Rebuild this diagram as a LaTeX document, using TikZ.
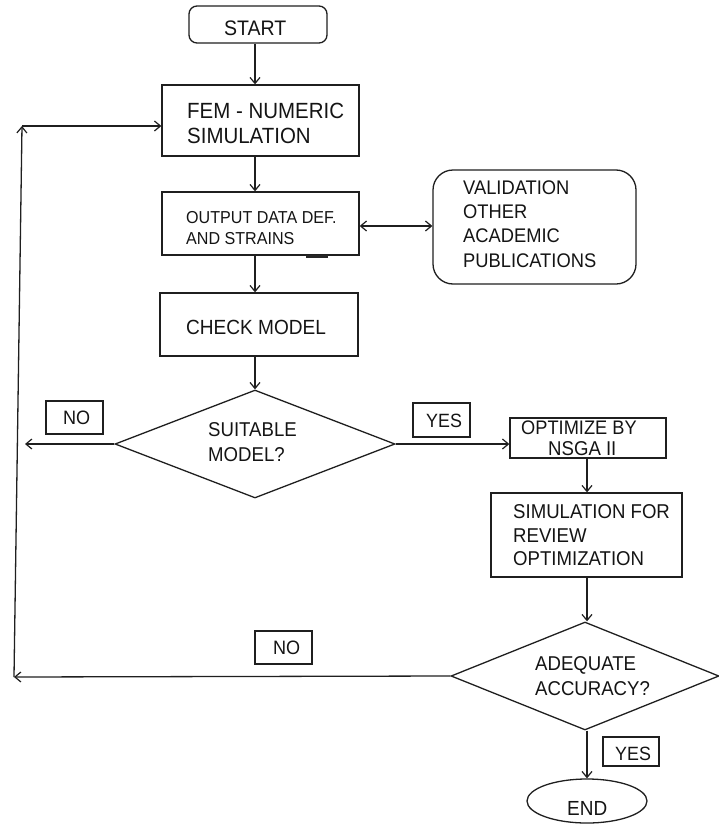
\documentclass[tikz,border=0pt]{standalone}
\usepackage{fontspec}
\setmainfont{Liberation Sans}[FakeStretch=0.93]
\usetikzlibrary{arrows.meta,shapes.geometric}

\tikzset{
  line/.style={draw=black!88, line width=1.3pt},
  arr/.style={line, -{Straight Barb[length=6pt,width=10pt,line width=1.2pt]}},
  darr/.style={line, {Straight Barb[length=6pt,width=10pt,line width=1.2pt]}-{Straight Barb[length=6pt,width=10pt,line width=1.2pt]}},
  box/.style={line, rectangle, inner sep=0pt},
  tagbox/.style={line, rectangle, inner sep=0pt, minimum width=57pt, minimum height=33pt},
  decision/.style={line, diamond, inner sep=0pt},
  txt/.style={anchor=base west, inner sep=0pt, text=black!92},
}
\newcommand{\fs}[1]{\fontsize{#1}{#1}\selectfont}

\begin{document}
\begin{tikzpicture}[x=1pt,y=-1pt]
  \useasboundingbox (0,0) rectangle (718,827);

  % main column of process boxes
  \node[box, rounded corners=8pt, minimum width=138pt, minimum height=37pt] (start) at (258,24.5) {};
  \node[box, minimum width=197pt, minimum height=71pt] (fem) at (260.5,120.5) {};
  \node[box, minimum width=197pt, minimum height=63pt] (out) at (260.5,223.5) {};
  \node[box, rounded corners=20pt, minimum width=203pt, minimum height=114pt] (val) at (534.5,227) {};
  \node[box, minimum width=198pt, minimum height=63pt] (chk) at (259,324.5) {};
  \node[decision, minimum width=280pt, minimum height=108pt] (suit) at (255,444) {};
  \node[box, minimum width=156pt, minimum height=40pt] (opt) at (588,438) {};
  \node[box, minimum width=191pt, minimum height=84pt] (sim) at (586.5,535) {};
  \node[decision, minimum width=268pt, minimum height=108pt] (adeq) at (585,676) {};
  \node[line, ellipse, inner sep=0pt, minimum width=120pt, minimum height=44pt] (end) at (587,801) {};

  % answer tags
  \node[tagbox] (no1) at (74.5,417.5) {};
  \node[tagbox, minimum height=34pt] (yes1) at (441.5,420) {};
  \node[tagbox] (no2) at (283.5,647.5) {};
  \node[tagbox, minimum width=56pt, minimum height=29pt] (yes2) at (631,751.5) {};

  % texts
  \node[txt, font=\fs{21}] (tstart) at (224,35) {START};
  \node[txt, font=\fs{22}] (tfem1) at (187,118) {FEM - NUMERIC};
  \node[txt, font=\fs{22}] (tfem2) at (187,143) {SIMULATION};
  \node[txt, font=\fs{17.3}] (tout1) at (186,223) {OUTPUT DATA DEF.};
  \node[txt, font=\fs{17.3}] (tout2) at (186,244) {AND STRAINS};
  \node[txt, font=\fs{19.7}] (tval1) at (463,194) {VALIDATION};
  \node[txt, font=\fs{19.7}] (tval2) at (463,218) {OTHER};
  \node[txt, font=\fs{19.7}] (tval3) at (463,242) {ACADEMIC};
  \node[txt, font=\fs{19.7}] (tval4) at (463,267) {PUBLICATIONS};
  \node[txt, font=\fs{20.5}] (tchk) at (186,334) {CHECK MODEL};
  \node[txt, font=\fs{20}] (tsuit1) at (208,436) {SUITABLE};
  \node[txt, font=\fs{20}] (tsuit2) at (208,461) {MODEL?};
  \node[txt, font=\fs{19.6}] (topt1) at (521,434) {OPTIMIZE BY};
  \node[txt, font=\fs{20}] (topt2) at (548,455) {NSGA II};
  \node[txt, font=\fs{20}] (tsim1) at (513,518) {SIMULATION FOR};
  \node[txt, font=\fs{20}] (tsim2) at (513,542) {REVIEW};
  \node[txt, font=\fs{20}] (tsim3) at (513,565) {OPTIMIZATION};
  \node[txt, font=\fs{20}] (tadq1) at (535,670) {ADEQUATE};
  \node[txt, font=\fs{20}] (tadq2) at (535,695) {ACCURACY?};
  \node[txt, font=\fs{20.4}] (tend) at (567,815) {END};
  \node[txt, font=\fs{19.4}] (tno1) at (63,424) {NO};
  \node[txt, font=\fs{19.2}] (tyes1) at (426,427) {YES};
  \node[txt, font=\fs{19.4}] (tno2) at (273,654) {NO};
  \node[txt, font=\fs{19.2}] (tyes2) at (615,760) {YES};

  % helper coordinates for connector routes
  \coordinate (spine) at (255,0);
  \coordinate (rspine) at (587,0);
  \coordinate (noend) at (25,444);
  \coordinate (loopbot) at (14,677);
  \coordinate (looptop) at (22,126);
  \coordinate (ticka) at (306,256.5);
  \coordinate (tickb) at (328,256.5);

  % connectors
  \draw[arr] (start.south -| spine) -- (fem.north -| spine);
  \draw[arr] (fem.south -| spine) -- (out.north -| spine);
  \draw[arr] (out.south -| spine) -- (chk.north -| spine);
  \draw[arr] (chk.south -| spine) -- (suit.north);
  \draw[darr] (out.east |- 0,226) -- (val.west |- 0,226);
  \draw[arr] (suit.west) -- (noend);
  \draw[arr] (suit.east) -- (suit.east -| opt.west);
  \draw[arr] (opt.south -| rspine) -- (sim.north -| rspine);
  \draw[arr] (sim.south -| rspine) -- (adeq.north -| rspine);
  \draw[arr] (adeq.south -| rspine) -- (end.north -| rspine);
  \draw[arr] (adeq.west) -- (loopbot);
  \draw[arr] (loopbot) -- (looptop);
  \draw[arr] (looptop) -- (fem.west |- looptop);

  % short heavy stroke under the output box
  \draw[line width=2.2pt, black!85] (ticka) -- (tickb);
\end{tikzpicture}
\end{document}
